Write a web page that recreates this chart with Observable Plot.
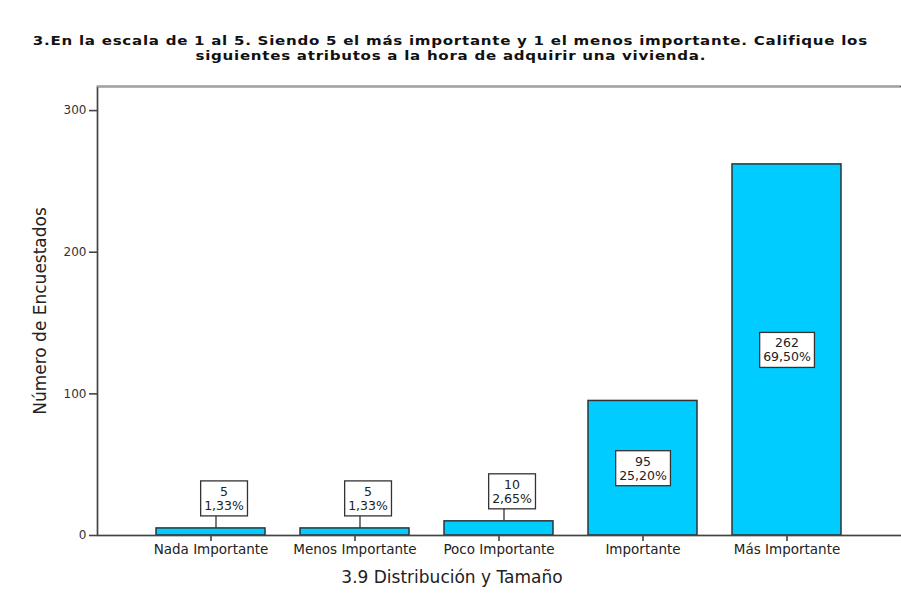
<!DOCTYPE html>
<html><head><meta charset="utf-8">
<script src="https://cdn.jsdelivr.net/npm/d3@7"></script>
<script src="https://cdn.jsdelivr.net/npm/@observablehq/plot@0.6"></script>
<style>
body{margin:0;background:#fff;width:901px;height:598px;overflow:hidden;font-family:"DejaVu Sans",sans-serif}
#title{height:70px;box-sizing:border-box;padding-top:33px;text-align:center;font-weight:bold;font-size:12.5px;line-height:15px;color:#111}
#title div{height:15px}
#title span{white-space:nowrap;display:inline-block;letter-spacing:0.6px;transform-origin:50% 50%}
#chart svg{display:block}
</style></head><body>
<div id="title"><div><span id="t1"></span></div><div><span id="t2"></span></div></div>
<div id="chart"></div>
<script>
// ---- data ----
const categories = ["Nada Importante", "Menos Importante", "Poco Importante", "Importante", "Más Importante"];
const counts = [5, 5, 10, 95, 262];
const percents = ["1,33%", "1,33%", "2,65%", "25,20%", "69,50%"];
const yTicks = [0, 100, 200, 300];
const titleLines = [
  "3.En la escala de 1 al 5. Siendo 5 el más importante y 1 el menos importante. Califique los",
  "siguientes atributos a la hora de adquirir una vivienda."
];
const xLabel = "3.9 Distribución y Tamaño";
const yLabel = "Número de Encuestados";

// ---- layout ----
const W = 901, H = 528, mt = 16, mb = 63, ml = 97, mr = 1, yTop = 317;
const k = (H - mt - mb) / yTop; // px per unit
const lift = 30, boxHalf = 17;

const t1 = document.getElementById("t1"), t2 = document.getElementById("t2");
t1.textContent = titleLines[0]; t2.textContent = titleLines[1];
const w1 = t1.getBoundingClientRect().width;
const sx = 835 / w1;
t1.style.transform = `scaleX(${sx})`; t2.style.transform = `scaleX(${sx})`;

const data = categories.map((c, i) => ({cat: c, count: counts[i], pct: percents[i]}));
const inner = data.filter(d => d.count * k > 60);
const outer = data.filter(d => d.count * k <= 60);
const lbl = d => `${d.count}\n${d.pct}`;

const plot = Plot.plot({
  width: W, height: H,
  marginTop: mt, marginBottom: mb, marginLeft: ml, marginRight: mr,
  style: {fontFamily: "DejaVu Sans", color: "#222", background: "#fff"},
  x: {domain: categories, paddingInner: 0.246, paddingOuter: 0.401, label: null},
  y: {domain: [0, yTop], label: null},
  marks: [
    Plot.barY(data, {x: "cat", y: "count", fill: "#00ccff", stroke: "#333", strokeWidth: 1.5}),
    Plot.ruleX(outer, {x: "cat", y1: "count", y2: d => d.count + (lift - boxHalf) / k, dx: 5, stroke: "#333", strokeWidth: 1.3}),
    Plot.text(inner, {x: "cat", y: d => d.count / 2, text: lbl, fontSize: 12.5, lineHeight: 1.12, lineAnchor: "middle", fill: "#222"}),
    Plot.text(outer, {x: "cat", y: d => d.count + lift / k, text: lbl, dx: 13, fontSize: 12.5, lineHeight: 1.12, lineAnchor: "middle", fill: "#222"}),
    Plot.frame({stroke: "#444", strokeWidth: 1.7, insetRight: -10}),
    Plot.ruleY([yTop], {stroke: "#a0a0a0", strokeWidth: 1.7}),
    Plot.axisY({ticks: yTicks, tickSize: 8, tickPadding: 3, fontSize: 12, label: null, stroke: "#444", strokeWidth: 1.6, fill: "#333"}),
    Plot.axisX({tickSize: 6, tickPadding: 3, fontSize: 13.5, label: null, stroke: "#444", strokeWidth: 1.6, fill: "#222"}),
    Plot.text([yLabel], {frameAnchor: "left", dx: -57, rotate: -90, textAnchor: "middle", lineAnchor: "middle", fontSize: 17, fill: "#222"}),
    Plot.text([xLabel], {frameAnchor: "bottom", dy: 42, dx: -47, textAnchor: "middle", lineAnchor: "middle", fontSize: 17, fill: "#222"})
  ]
});
document.getElementById("chart").appendChild(plot);

// white boxes behind value labels
const ns = "http://www.w3.org/2000/svg";
plot.querySelectorAll('g[aria-label="text"] text').forEach(t => {
  if (!t.textContent.includes("%")) return;
  const b = t.getBBox();
  const r = document.createElementNS(ns, "rect");
  const cx = b.x + b.width / 2, cy = b.y + b.height / 2;
  const w = b.width + 7, h = 35;
  r.setAttribute("x", cx - w / 2); r.setAttribute("y", cy - h / 2);
  r.setAttribute("width", w); r.setAttribute("height", h);
  r.setAttribute("fill", "#fff"); r.setAttribute("stroke", "#333"); r.setAttribute("stroke-width", "1.3");
  const tr = t.getAttribute("transform"); if (tr) r.setAttribute("transform", tr);
  t.parentNode.insertBefore(r, t);
});
</script>
</body></html>
